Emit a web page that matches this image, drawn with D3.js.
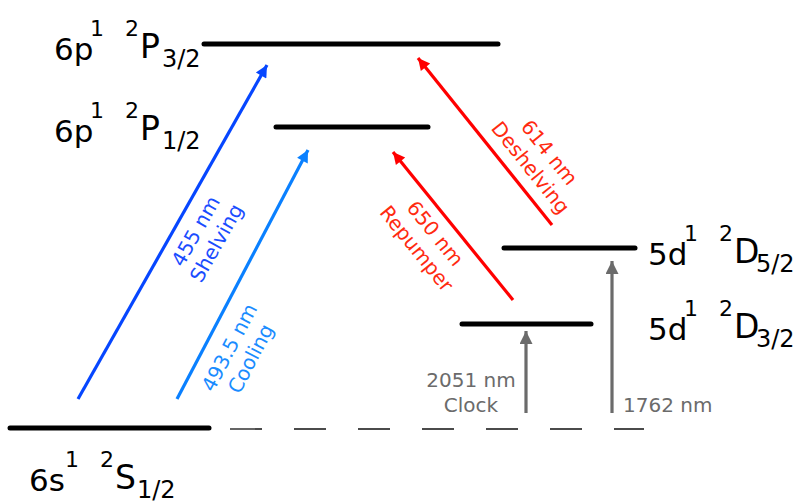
<!DOCTYPE html>
<html><head><meta charset="utf-8">
<script src="https://cdn.jsdelivr.net/npm/d3@7"></script>
<style>
html,body{margin:0;padding:0;background:#fff;}
svg{display:block;font-family:"DejaVu Sans",Verdana,sans-serif;}
</style></head>
<body><svg id="c" width="796" height="504"></svg>
<script>
// Energy levels (diagram units, not to scale)
const levelNames = ["S1/2","D3/2","D5/2","P1/2","P3/2"];
const levelEnergy = [0, 104, 180, 301, 384];
const levelX0 = [10, 462, 504, 276, 204];
const levelX1 = [209, 591, 635, 428, 498];
// term labels: config, config superscript, multiplicity, letter, J
const labelConfig = ["6s","5d","5d","6p","6p"];
const labelSup = ["1","1","1","1","1"];
const labelMult = ["2","2","2","2","2"];
const labelLetter = ["S","D","D","P","P"];
const labelJ = ["1/2","3/2","5/2","1/2","3/2"];
const labelX = [29, 648, 648, 54, 54];
const labelE = [-63, 88, 163, 286, 368];
// transitions
const trNames = ["455 nm","493.5 nm","650 nm","614 nm","2051 nm","1762 nm"];
const trSub = ["Shelving","Cooling","Repumper","Deshelving","Clock",""];
const trX0 = [78, 177, 513, 552, 526, 612];
const trE0 = [29, 29, 128, 203, 15, 15];
const trX1 = [267, 308, 393, 418, 526, 612];
const trE1 = [363, 278, 276, 370, 97, 167];
const trColor = ["#0646ff","#0a80ff","#ff0000","#ff0000","#6b6b6b","#6b6b6b"];
const trTextColor = ["#1a4dff","#1a8cff","#ff2a10","#ff2a10","#6b6b6b","#6b6b6b"];
// label centres of arrow labels
const trLX = [206, 240, 426, 540, 471, 623];
const trLE = [191, 75, 187, 268, 41, 16];
// dashed virtual level
const dashE = [-1];
const dashX = [230, 644];

const svg = d3.select("#c");
const x = d3.scaleLinear().domain([0, 796]).range([0, 796]);
const y = d3.scaleLinear().domain([0, 384]).range([428, 44]);

const defs = svg.append("defs");
trColor.forEach((c, i) => {
  const gray = i >= 4;
  defs.append("marker").attr("id", "ah" + i)
    .attr("viewBox", "0 0 10 10").attr("refX", 10).attr("refY", 5)
    .attr("markerUnits", "userSpaceOnUse")
    .attr("markerWidth", gray ? 17 : 16).attr("markerHeight", gray ? 13 : 12)
    .attr("orient", "auto")
    .append("path").attr("d", "M0,0 L10,5 L0,10 Z").attr("fill", c);
});

// dashed line
svg.append("line")
  .attr("x1", x(dashX[0])).attr("x2", x(dashX[1]))
  .attr("y1", y(dashE[0])).attr("y2", y(dashE[0]))
  .attr("stroke", "#111").attr("stroke-width", 1.3)
  .attr("stroke-dasharray", "32,32");

// levels
svg.selectAll("line.level").data(levelNames).join("line").attr("class", "level")
  .attr("x1", (d, i) => x(levelX0[i])).attr("x2", (d, i) => x(levelX1[i]))
  .attr("y1", (d, i) => y(levelEnergy[i])).attr("y2", (d, i) => y(levelEnergy[i]))
  .attr("stroke", "#000").attr("stroke-width", 5).attr("stroke-linecap", "round");

// arrows
svg.selectAll("line.tr").data(trNames).join("line").attr("class", "tr")
  .attr("x1", (d, i) => x(trX0[i])).attr("y1", (d, i) => y(trE0[i]))
  .attr("x2", (d, i) => x(trX1[i])).attr("y2", (d, i) => y(trE1[i]))
  .attr("stroke", (d, i) => trColor[i]).attr("stroke-width", 3.2)
  .attr("marker-end", (d, i) => "url(#ah" + i + ")");

// rotated arrow labels
trNames.forEach((n, i) => {
  if (i >= 4) return;
  const dx = x(trX1[i]) - x(trX0[i]), dy = y(trE1[i]) - y(trE0[i]);
  let ang = Math.atan2(dy, dx) * 180 / Math.PI;
  if (ang < -90) ang += 180;
  if (ang > 90) ang -= 180;
  const g = svg.append("g")
    .attr("transform", `translate(${x(trLX[i])},${y(trLE[i])}) rotate(${ang})`);
  const t = g.append("text").attr("text-anchor", "middle")
    .attr("fill", trTextColor[i]).attr("font-size", 20);
  t.append("tspan").attr("x", 0).attr("y", -5).text(n);
  t.append("tspan").attr("x", 0).attr("y", 19).text(trSub[i]);
});
// gray labels
svg.append("text").attr("text-anchor", "middle").attr("fill", trTextColor[4]).attr("font-size", 20)
  .attr("x", x(trLX[4])).attr("y", y(trLE[4])).text(trNames[4]);
svg.append("text").attr("text-anchor", "middle").attr("fill", trTextColor[4]).attr("font-size", 20)
  .attr("x", x(trLX[4])).attr("y", y(trLE[4]) + 25).text(trSub[4]);
svg.append("text").attr("text-anchor", "start").attr("fill", trTextColor[5]).attr("font-size", 20)
  .attr("x", x(trLX[5])).attr("y", y(trLE[5])).text(trNames[5]);

// term labels
levelNames.forEach((n, i) => {
  const bx = x(labelX[i]), by = y(labelE[i]);
  const g = svg.append("g").attr("fill", "#000");
  g.append("text").attr("x", bx).attr("y", by).attr("font-size", 31).text(labelConfig[i]);
  g.append("text").attr("x", bx + 36).attr("y", by - 24).attr("font-size", 22).text(labelSup[i]);
  g.append("text").attr("x", bx + 71).attr("y", by - 24).attr("font-size", 22).text(labelMult[i]);
  g.append("text").attr("x", bx + 86).attr("y", by - 2).attr("font-size", 33).text(labelLetter[i]);
  g.append("text").attr("x", bx + 108).attr("y", by + 7).attr("font-size", 24).text(labelJ[i]);
});
</script></body></html>
